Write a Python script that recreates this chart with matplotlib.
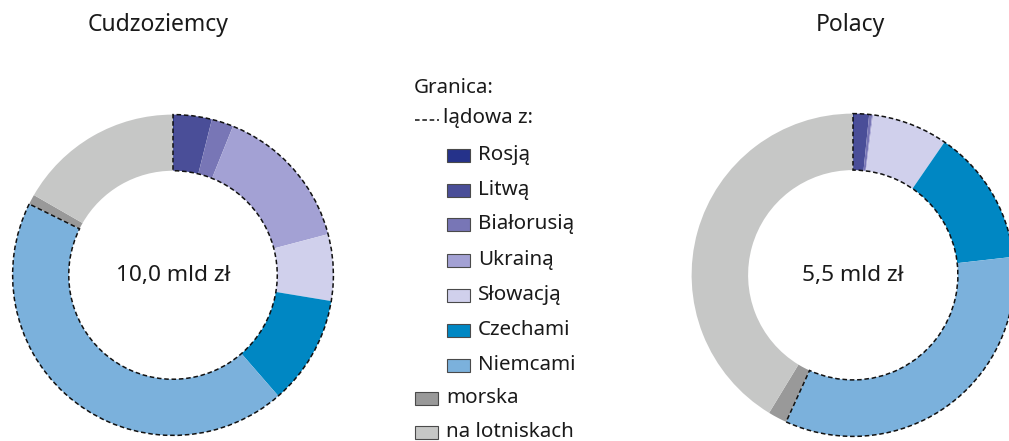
#!/usr/bin/env python3
"""Struktura wydatkow wg rodzaju granicy - dwa wykresy pierscieniowe."""

import matplotlib

matplotlib.use("Agg")

import matplotlib.pyplot as plt
from matplotlib.patches import Rectangle, Wedge

plt.rcParams["font.family"] = ["Noto Sans", "DejaVu Sans"]

# dane (udzialy w %, kolejnosc zgodna z legenda)
categories = ["Rosją", "Litwą", "Białorusią", "Ukrainą", "Słowacją", "Czechami",
              "Niemcami", "morska", "na lotniskach"]
colors = ["#25328a", "#4a4e98", "#7876b6", "#a3a1d4", "#d0d0ec", "#0087c3",
          "#7bb1dc", "#999999", "#c6c7c6"]
land_count = 7  # pierwsze 7 kategorii to granica ladowa

cudzoziemcy = [0.1, 3.8, 2.2, 14.8, 6.7, 11.0, 43.7, 1.0, 16.7]
polacy = [0.1, 1.5, 0.3, 0.1, 7.6, 13.6, 33.6, 1.9, 41.3]

titles = ["Cudzoziemcy", "Polacy"]
totals = ["10,0 mld zł", "5,5 mld zł"]

W, H = 1009, 441
fig = plt.figure(figsize=(W / 100, H / 100), dpi=100)
txt_color = "#1a1a1a"
dash = (0, (3, 1.8))


def px_axes(cx, cy, r):
    return fig.add_axes([(cx - r) / W, (H - cy - r) / H, 2 * r / W, 2 * r / H])


def donut(ax, values, label):
    ax.pie(values, colors=colors, startangle=90, counterclock=False,
           radius=1, wedgeprops=dict(width=0.35, linewidth=0))
    land = sum(values[:land_count]) / sum(values) * 360
    ax.add_patch(Wedge((0, 0), 1, 90 - land, 90, width=0.35, fill=False,
                       edgecolor="#111111", linewidth=1.1, linestyle=dash))
    ax.text(0, 0, label, ha="center", va="center", fontsize=16.3, color=txt_color)
    ax.set_xlim(-1.01, 1.01)
    ax.set_ylim(-1.01, 1.01)
    ax.set_aspect("equal")
    ax.axis("off")


donut(px_axes(173, 275, 162), cudzoziemcy, totals[0])
donut(px_axes(853, 275, 163), polacy, totals[1])

fig.text(158 / W, 1 - 25 / H, titles[0], ha="center", va="center",
         fontsize=16.5, color=txt_color)
fig.text(850 / W, 1 - 25 / H, titles[1], ha="center", va="center",
         fontsize=16.5, color=txt_color)

# legenda
lg = fig.add_axes([0, 0, 1, 1], zorder=-1)
lg.set_xlim(0, W)
lg.set_ylim(H, 0)
lg.axis("off")

fs = 14.8
lg.text(414, 88, "Granica:", ha="left", va="center", fontsize=fs, color=txt_color)
lg.plot([415, 439], [120, 120], color="#111111", linewidth=1.1, linestyle=dash)
lg.text(443, 118, "lądowa z:", ha="left", va="center", fontsize=fs, color=txt_color)

row_y = [155, 190, 224, 260, 295, 330, 365, 398, 432]
for i, (name, col) in enumerate(zip(categories, colors)):
    x0 = 447 if i < land_count else 415
    lg.add_patch(Rectangle((x0, row_y[i] - 6.5), 23, 13, facecolor=col,
                           edgecolor="#4a4a4a", linewidth=0.8))
    lg.text(x0 + 31, row_y[i], name, ha="left", va="center", fontsize=fs,
            color=txt_color)

fig.savefig("out.png", dpi=100, facecolor="white")
